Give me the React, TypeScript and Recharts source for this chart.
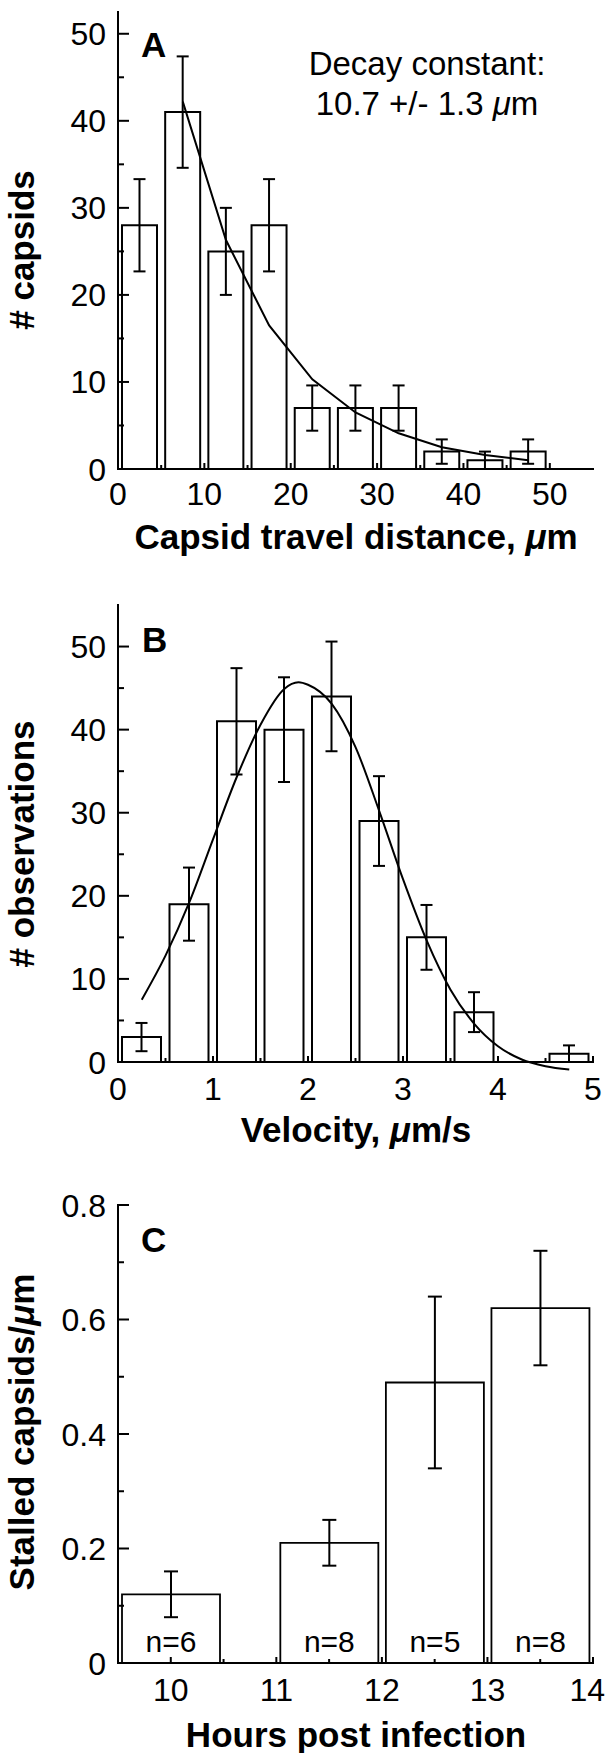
import { ComposedChart, Bar, Line, XAxis, YAxis, ErrorBar, LabelList } from "recharts";

const FONT = '"Liberation Sans", Arial, Helvetica, sans-serif';

// Panel A: capsid travel distance histogram + exponential decay fit
const distanceBins = [2.5, 7.5, 12.5, 17.5, 22.5, 27.5, 32.5, 37.5, 42.5, 47.5];
const distanceCounts = [28, 41, 25, 28, 7, 7, 7, 2, 1, 2];
const distanceErrors = [5.3, 6.4, 5, 5.3, 2.6, 2.6, 2.6, 1.4, 1, 1.4];
const decayFitX = [7.5, 12.5, 17.5, 22.5, 27.5, 32.5, 37.5, 42.5, 47.5];
const decayFitY = [42.2, 26.3, 16.5, 10.3, 6.5, 4.1, 2.5, 1.6, 1.0];

// Panel B: velocity histogram + gaussian fit
const velocityBins = [0.25, 0.75, 1.25, 1.75, 2.25, 2.75, 3.25, 3.75, 4.25, 4.75];
const velocityCounts = [3, 19, 41, 40, 44, 29, 15, 6, 0, 1];
const velocityErrors = [1.7, 4.4, 6.4, 6.3, 6.6, 5.4, 3.9, 2.4, 0, 1];
const gaussFitX = [0.25, 0.5, 0.75, 1, 1.25, 1.5, 1.75, 1.9, 2, 2.25, 2.5, 2.75, 3, 3.25, 3.5, 3.75, 4, 4.25, 4.5, 4.75];
const gaussFitY = [7.5, 12.8, 19.2, 26.8, 34.3, 40.6, 44.9, 45.7, 45.4, 43.1, 37.9, 30.2, 22.0, 14.6, 8.7, 4.6, 1.9, 0.3, -0.5, -0.9];

// Panel C: stalled capsids vs hours post infection
const hours = [10, 11.5, 12.5, 13.5];
const stalled = [0.12, 0.21, 0.49, 0.62];
const stalledErrors = [0.04, 0.04, 0.15, 0.1];
const cellCounts = [6, 8, 5, 8];

// ticks
const aXTicks = [0, 5, 10, 15, 20, 25, 30, 35, 40, 45, 50];
const aXLabels = [0, 10, 20, 30, 40, 50];
const aYMajor = [0, 10, 20, 30, 40, 50];
const aYMinor = [5, 15, 25, 35, 45];

const bXTicks = [0, 0.5, 1, 1.5, 2, 2.5, 3, 3.5, 4, 4.5, 5];
const bXLabels = [0, 1, 2, 3, 4, 5];
const bYMajor = [0, 10, 20, 30, 40, 50];
const bYMinor = [5, 15, 25, 35, 45];

const cXTicks = [10, 10.5, 11, 11.5, 12, 12.5, 13, 13.5, 14];
const cXLabels = [10, 11, 12, 13, 14];
const cTopTicks = [10, 11, 12, 13];
const cYMajor = [0, 0.2, 0.4, 0.6, 0.8];
const cYMinor = [0.1, 0.3, 0.5, 0.7];

const distanceData = distanceBins.map((x, i) => ({ x, count: distanceCounts[i], err: distanceErrors[i] }));
const decayData = decayFitX.map((x, i) => ({ x, fit: decayFitY[i] }));
const velocityData = velocityBins.map((x, i) => ({ x, count: velocityCounts[i], err: velocityErrors[i] }));
const gaussData = gaussFitX.map((x, i) => ({ x, fit: gaussFitY[i] }));
const stalledData = hours.map((x, i) => ({ x, value: stalled[i], err: stalledErrors[i], n: cellCounts[i] }));

const merge = (a: number[], b: number[]) => [...a, ...b].sort((p, q) => p - q);
const frame = { stroke: "#000", strokeWidth: 2, strokeLinecap: "square" as const };
const textStyle = { fontSize: 32, fontFamily: FONT, fill: "#000" };

function leftTick(major: number[]) {
  return (props: any) => {
    const { x, y, payload } = props;
    const isMajor = major.includes(payload.value);
    return (
      <g>
        <line x1={x} x2={x + (isMajor ? 11 : 6)} y1={y} y2={y} stroke="#000" strokeWidth={2} />
        {isMajor && (
          <text x={x - 12} y={y + 11.5} textAnchor="end" {...textStyle}>
            {payload.value}
          </text>
        )}
      </g>
    );
  };
}

function rightTick(major: number[]) {
  return (props: any) => {
    const { x, y, payload } = props;
    const isMajor = major.includes(payload.value);
    return <line x1={x} x2={x - (isMajor ? 11 : 6)} y1={y} y2={y} stroke="#000" strokeWidth={2} />;
  };
}

// labels near the right page edge are pulled in so they stay on the page
function bottomTick(labels: number[], dy: number) {
  return (props: any) => {
    const { x, y, payload } = props;
    const isMajor = labels.includes(payload.value);
    const label = String(payload.value);
    const halfW = label.length * 9;
    const nearEdge = x + halfW > 605;
    return (
      <g>
        <line x1={x} x2={x} y1={y} y2={y - (isMajor ? 6 : 4)} stroke="#000" strokeWidth={2} />
        {isMajor && (
          <text x={nearEdge ? 605 : x} y={y + dy} textAnchor={nearEdge ? "end" : "middle"} {...textStyle}>
            {label}
          </text>
        )}
      </g>
    );
  };
}

function topTick(len: number) {
  return (props: any) => {
    const { x, y } = props;
    return <line x1={x} x2={x} y1={y} y2={y + len} stroke="#000" strokeWidth={2} />;
  };
}

const axisCommon = { tickLine: false, tickSize: 0, tickMargin: 0, interval: 0 as const, axisLine: frame };

function PanelA() {
  return (
    <ComposedChart width={609} height={560} data={distanceData} margin={{ top: 12, right: 16, bottom: 0, left: 0 }}>
      <XAxis xAxisId="x" dataKey="x" type="number" domain={[0, 55]} ticks={aXTicks} height={91} tick={bottomTick(aXLabels, 36)} {...axisCommon} />
      <XAxis xAxisId="top" orientation="top" type="number" domain={[0, 55]} allowDataOverflow ticks={aXTicks} height={0} tick={topTick(4)} {...axisCommon} />
      <YAxis yAxisId="y" type="number" domain={[0, 52.5]} ticks={merge(aYMajor, aYMinor)} width={118} tick={leftTick(aYMajor)} {...axisCommon} />
      <YAxis yAxisId="right" orientation="right" type="number" domain={[0, 52.5]} allowDataOverflow ticks={merge(aYMajor, aYMinor)} width={0} tick={rightTick(aYMajor)} {...axisCommon} />
      <Bar xAxisId="x" yAxisId="y" dataKey="count" barSize={35} fill="#fff" stroke="#000" strokeWidth={2} isAnimationActive={false}>
        <ErrorBar dataKey="err" direction="y" width={6} stroke="#000" strokeWidth={2} />
      </Bar>
      <Line xAxisId="x" yAxisId="y" data={decayData} dataKey="fit" type="linear" stroke="#000" strokeWidth={2} dot={false} activeDot={false} isAnimationActive={false} />
    </ComposedChart>
  );
}

function PanelB() {
  // the fit dips slightly below zero; it sits on its own hidden axes so it is not clipped
  const plotH = 457;
  return (
    <ComposedChart width={609} height={580} data={velocityData} margin={{ top: 25, right: 16, bottom: 0, left: 0 }}>
      <XAxis xAxisId="fitx" dataKey="x" type="number" domain={[0, 5]} height={0} hide />
      <YAxis yAxisId="fity" type="number" domain={[-1, 55]} padding={{ top: 0, bottom: -plotH / 55 }} width={0} hide />
      <XAxis xAxisId="x" dataKey="x" type="number" domain={[0, 5]} ticks={bXTicks} height={98} tick={bottomTick(bXLabels, 38)} {...axisCommon} />
      <XAxis xAxisId="top" orientation="top" type="number" domain={[0, 5]} allowDataOverflow ticks={bXTicks} height={0} tick={topTick(4)} {...axisCommon} />
      <YAxis yAxisId="y" type="number" domain={[0, 55]} ticks={merge(bYMajor, bYMinor)} width={118} tick={leftTick(bYMajor)} {...axisCommon} />
      <YAxis yAxisId="right" orientation="right" type="number" domain={[0, 55]} allowDataOverflow ticks={merge(bYMajor, bYMinor)} width={0} tick={rightTick(bYMajor)} {...axisCommon} />
      <Bar xAxisId="x" yAxisId="y" dataKey="count" barSize={39} fill="#fff" stroke="#000" strokeWidth={2} isAnimationActive={false}>
        <ErrorBar dataKey="err" direction="y" width={6} stroke="#000" strokeWidth={2} />
      </Bar>
      <Line xAxisId="fitx" yAxisId="fity" data={gaussData} dataKey="fit" type="monotone" stroke="#000" strokeWidth={2} dot={false} activeDot={false} isAnimationActive={false} />
    </ComposedChart>
  );
}

function PanelC() {
  return (
    <ComposedChart width={609} height={573} data={stalledData} margin={{ top: 25, right: 16, bottom: 0, left: 0 }}>
      <XAxis xAxisId="x" dataKey="x" type="number" domain={[9.5, 14]} ticks={cXTicks} height={90} tick={bottomTick(cXLabels, 38)} {...axisCommon} />
      <XAxis xAxisId="top" orientation="top" type="number" domain={[9.5, 14]} allowDataOverflow ticks={cTopTicks} height={0} tick={topTick(6)} {...axisCommon} />
      <YAxis yAxisId="y" type="number" domain={[0, 0.8]} ticks={merge(cYMajor, cYMinor)} width={118} tick={leftTick(cYMajor)} {...axisCommon} />
      <YAxis yAxisId="right" orientation="right" type="number" domain={[0, 0.8]} allowDataOverflow ticks={merge(cYMajor, cYMinor)} width={0} tick={rightTick(cYMajor)} {...axisCommon} />
      <Bar xAxisId="x" yAxisId="y" dataKey="value" barSize={98} fill="#fff" stroke="#000" strokeWidth={1.8} isAnimationActive={false}>
        <ErrorBar dataKey="err" direction="y" width={7} stroke="#000" strokeWidth={2} />
        <LabelList dataKey="n" position="insideBottom" offset={11} formatter={(v: any) => `n=${v}`} fill="#000" fontSize={30} fontFamily={FONT} />
      </Bar>
    </ComposedChart>
  );
}

const bold = { fontSize: 35, fontWeight: 700, fontFamily: FONT, fill: "#000" };
const mu = <tspan fontStyle="italic">μ</tspan>;

export default function App() {
  return (
    <div style={{ position: "absolute", left: 0, top: 0, width: 609, height: 1753, background: "#fff", overflow: "hidden" }}>
      <div style={{ position: "absolute", left: 0, top: 0 }}>
        <PanelA />
      </div>
      <div style={{ position: "absolute", left: 0, top: 580 }}>
        <PanelB />
      </div>
      <div style={{ position: "absolute", left: 0, top: 1180 }}>
        <PanelC />
      </div>

      {/* panel letters, annotation and axis titles */}
      <svg width={609} height={1753} style={{ position: "absolute", left: 0, top: 0, pointerEvents: "none" }}>
        <text x={141} y={57} {...bold}>A</text>
        <text x={427} y={75} textAnchor="middle" fontSize={33} fontFamily={FONT}>Decay constant:</text>
        <text x={427} y={115} textAnchor="middle" fontSize={33} fontFamily={FONT}>
          10.7 +/- 1.3 {mu}m
        </text>
        <text x={356} y={549} textAnchor="middle" {...bold}>
          Capsid travel distance, {mu}m
        </text>
        <text x={34} y={250} textAnchor="middle" transform="rotate(-90 34 250)" {...bold}># capsids</text>

        <text x={142} y={652} {...bold}>B</text>
        <text x={356} y={1142} textAnchor="middle" {...bold}>
          Velocity, {mu}m/s
        </text>
        <text x={34} y={844} textAnchor="middle" transform="rotate(-90 34 844)" {...bold}># observations</text>

        <text x={141} y={1252} {...bold}>C</text>
        <text x={356} y={1747} textAnchor="middle" {...bold}>Hours post infection</text>
        <text x={34} y={1432} textAnchor="middle" transform="rotate(-90 34 1432)" {...bold}>
          Stalled capsids/{mu}m
        </text>
      </svg>
    </div>
  );
}
